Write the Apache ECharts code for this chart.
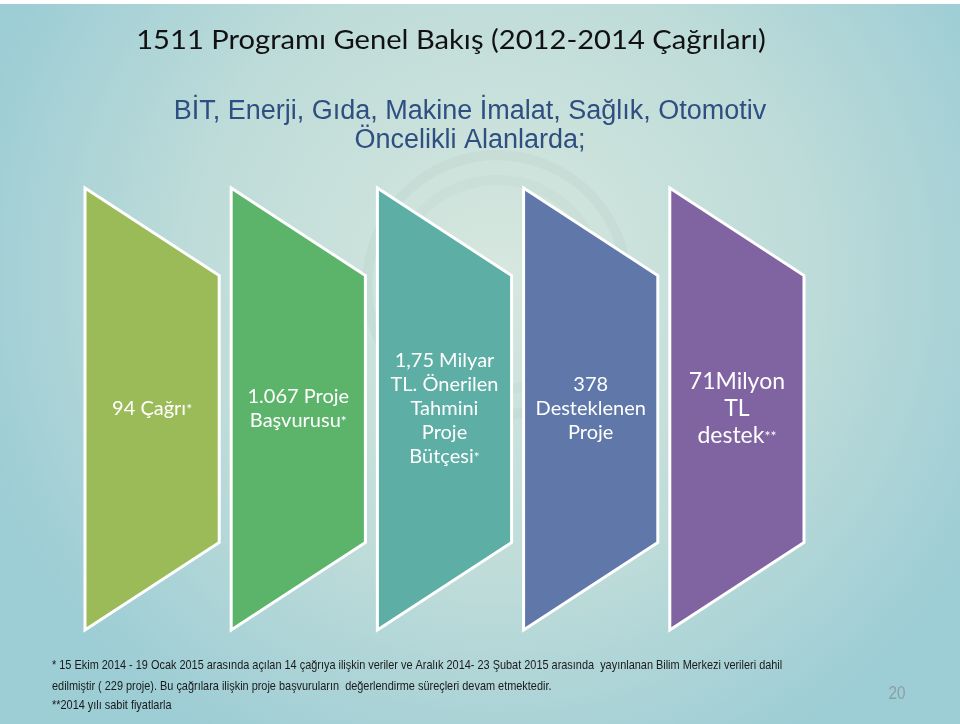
<!DOCTYPE html>
<html><head><meta charset="utf-8">
<script src="https://cdn.jsdelivr.net/npm/echarts@6/dist/echarts.min.js"></script>
<style>html,body{margin:0;padding:0;background:#fff}#c{width:960px;height:724px}</style>
</head><body><div id="c"></div>
<script>
// ---- data ----
const categories = ['Çağrı', 'Başvuru', 'Bütçe', 'Desteklenen', 'Destek'];
const labels = [
  '94 Çağrı{s|*}',
  '1.067 Proje\nBaşvurusu{s|*}',
  '1,75 Milyar\nTL. Önerilen\nTahmini\nProje\nBütçesi{s|*}',
  '378\nDesteklenen\nProje',
  '{b|71Milyon}\n{b|TL}\n{b|destek}{s|**}'
];
const values = [100, 100, 100, 100, 100];
const colors = ['#9BBB59', '#5CB46A', '#5DAEA5', '#6077A9', '#8064A2'];
const titleText = '1511 Programı Genel Bakış (2012-2014 Çağrıları)';
const subtitleLines = ['BİT, Enerji, Gıda, Makine İmalat, Sağlık, Otomotiv', 'Öncelikli Alanlarda;'];
const footnotes = [
  '* 15 Ekim 2014 - 19 Ocak 2015 arasında açılan 14 çağrıya ilişkin veriler ve Aralık 2014- 23 Şubat 2015 arasında  yayınlanan Bilim Merkezi verileri dahil',
  'edilmiştir ( 229 proje). Bu çağrılara ilişkin proje başvuruların  değerlendirme süreçleri devam etmektedir.',
  '**2014 yılı sabit fiyatlarla'
];
const pageNumber = '20';

const chart = echarts.init(document.getElementById('c'), null, {renderer: 'canvas'});
const sans = "'Liberation Sans', Arial, sans-serif";
const body = "Lato, 'Open Sans', sans-serif";

const option = {
  backgroundColor: new echarts.graphic.RadialGradient(0.52, 0.38, 0.75, [
    {offset: 0, color: '#D6E7DE'},
    {offset: 0.55, color: '#BFDCD9'},
    {offset: 1, color: '#9DCDD5'}
  ]),
  animation: false,
  graphic: [
    {type: 'rect', shape: {x: 0, y: 0, width: 960, height: 4}, style: {fill: '#ffffff'}, z: -1},
    {type: 'ring', shape: {cx: 497, cy: 285, r: 135, r0: 125}, style: {fill: 'rgba(140,165,160,0.09)'}, z: -1, silent: true},
    {type: 'ring', shape: {cx: 497, cy: 285, r: 110, r0: 100}, style: {fill: 'rgba(140,165,160,0.07)'}, z: -1, silent: true},
    {type: 'text', x: 451, y: 40, scaleX: 1.1,
     style: {text: titleText, font: '26.5px ' + body, fill: '#111111', align: 'center', verticalAlign: 'middle'}},
    {type: 'text', x: 470, y: 112,
     style: {text: subtitleLines[0], font: '27px ' + sans, fill: '#2E4F80', align: 'center', verticalAlign: 'middle'}},
    {type: 'text', x: 470, y: 141,
     style: {text: subtitleLines[1], font: '27px ' + sans, fill: '#2E4F80', align: 'center', verticalAlign: 'middle'}},
    {type: 'text', x: 52, y: 665, scaleX: 0.84,
     style: {text: footnotes[0], font: '13px ' + sans, fill: '#1a1a1a', verticalAlign: 'middle'}},
    {type: 'text', x: 52, y: 686, scaleX: 0.84,
     style: {text: footnotes[1], font: '13px ' + sans, fill: '#1a1a1a', verticalAlign: 'middle'}},
    {type: 'text', x: 52, y: 705, scaleX: 0.84,
     style: {text: footnotes[2], font: '13px ' + sans, fill: '#1a1a1a', verticalAlign: 'middle'}},
    {type: 'text', x: 897, y: 694, scaleX: 0.85,
     style: {text: pageNumber, font: '18px ' + sans, fill: '#8C9FA4', align: 'center', verticalAlign: 'middle'}}
  ],
  grid: {left: 79, right: 150, top: 188, bottom: 94},
  xAxis: {type: 'category', data: categories, show: false},
  yAxis: {type: 'value', min: 0, max: 100, show: false},
  series: [{
    type: 'custom',
    data: values.map((v, i) => [i, v]),
    renderItem: function (params, api) {
      const i = api.value(0);
      const v = api.value(1);
      const c = api.coord([i, 0]);
      const t = api.coord([i, v]);
      const bw = api.size([1, 0])[0] * 0.918;
      const xl = c[0] - bw / 2, xr = c[0] + bw / 2;
      const h = c[1] - t[1];
      const notch = h * 0.198;
      return {
        type: 'group',
        children: [
          {type: 'polygon',
           shape: {points: [[xl, t[1]], [xr, t[1] + notch], [xr, c[1] - notch], [xl, c[1]]]},
           style: {fill: colors[i], stroke: '#ffffff', lineWidth: 3}},
          {type: 'text', x: c[0], y: (t[1] + c[1]) / 2,
           style: {text: labels[i], align: 'center', verticalAlign: 'middle',
                   fill: '#ffffff', font: '20px ' + body, lineHeight: 24,
                   rich: {s: {fontSize: 14, fill: '#ffffff', verticalAlign: 'middle', fontFamily: body},
                          b: {fontSize: 23, lineHeight: 27, fill: '#ffffff', fontFamily: body}}}}
        ]
      };
    }
  }]
};
chart.setOption(option);
</script></body></html>
